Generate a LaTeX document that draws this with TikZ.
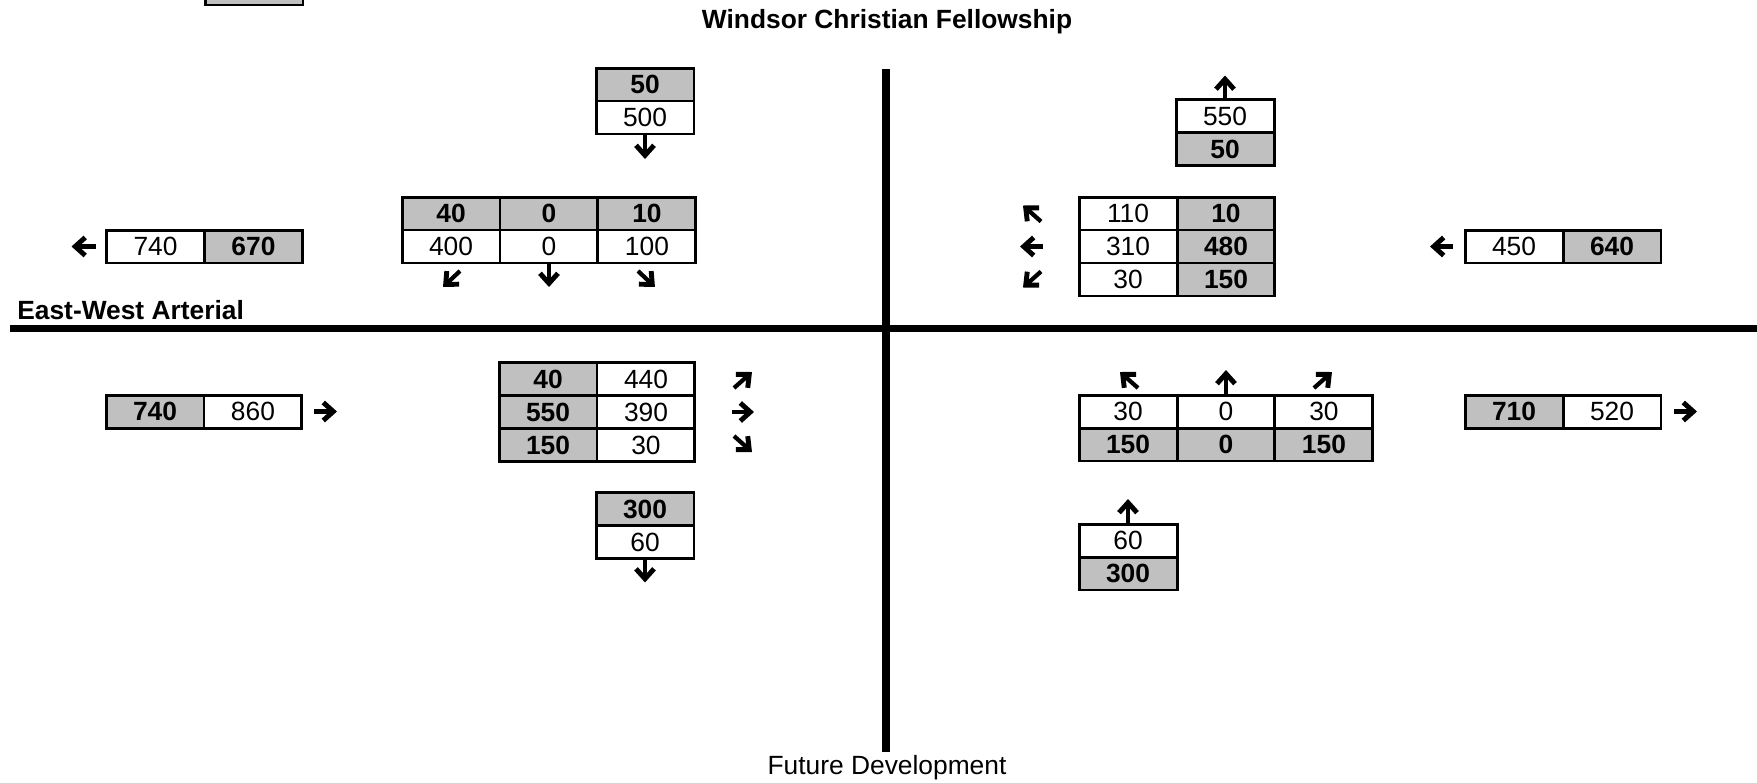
\documentclass[tikz,border=0pt]{standalone}
\usepackage{fontspec}
\setmainfont{Liberation Sans}
\usepackage{xcolor}
\usetikzlibrary{arrows.meta, positioning}
\definecolor{cellgray}{HTML}{C0C0C0}

\begin{document}
\begin{tikzpicture}[
    x=0.02cm, y=-0.02cm,
    cell/.style={rectangle, draw, line width=1.7pt, minimum width=1.96cm, minimum height=0.66cm, inner sep=0pt, outer sep=0pt, font=\fontsize{15}{18}\selectfont},
    vol/.style={cell, fill=white},
    volg/.style={cell, fill=cellgray, font=\fontsize{15}{18}\selectfont\bfseries},
    road/.style={line width=4pt},
    street/.style={inner sep=0pt, font=\fontsize{15}{18}\selectfont\bfseries},
    mvarrow/.style={line width=2.4pt, -{Straight Barb[length=2mm, width=3.6mm, line width=2.8pt]}},
]
\useasboundingbox (0,0) rectangle (1757,782);

% roads
\coordinate (ewstart) at (10,328.5);
\coordinate (ewend) at (1757,328.5);
\coordinate (nstop) at (886,69);
\coordinate (nsbot) at (886,752);
\draw[road] (ewstart) -- (ewend);
\draw[road] (nstop) -- (nsbot);

% street names
\node[street, anchor=base] (wcf) at (887,28.5) {Windsor Christian Fellowship};
\node[street, anchor=base west] (ewa) at (17,319) {East-West Arterial};
\node[inner sep=0pt, anchor=base, font=\fontsize{15}{18}\selectfont] (fut) at (887,774) {Future Development};

% cut-off box, top left
\node[volg] (keybox) at (254,-11.5) {};

% north-west quadrant
\node[volg] (nwin) at (645,84.5) {50};
\node[vol, below=0pt of nwin] (nwout) {500};
\draw[mvarrow] (nwout.south) -- ++(0,25);

\node[vol] (nwwout) at (155.5,246.5) {740};
\node[volg, right=0pt of nwwout] (nwwpk) {670};
\draw[mvarrow] ([shift={(-11,0)}]nwwout.west) -- ++(-24,0);

\node[volg] (nwta) at (451,213.5) {40};
\node[volg, right=0pt of nwta] (nwtb) {0};
\node[volg, right=0pt of nwtb] (nwtc) {10};
\node[vol, below=0pt of nwta] (nwba) {400};
\node[vol, below=0pt of nwtb] (nwbb) {0};
\node[vol, below=0pt of nwtc] (nwbc) {100};
\draw[mvarrow] ([shift={(9,8)}]nwba.south) -- ++(-17,16);
\draw[mvarrow] (nwbb.south) -- ++(0,24);
\draw[mvarrow] ([shift={(-9,8)}]nwbc.south) -- ++(17,16);

% north-east quadrant
\node[vol] (neout) at (1225,116) {550};
\node[volg, below=0pt of neout] (nein) {50};
\draw[mvarrow] (neout.north) -- ++(0,-24);

\node[vol] (nela) at (1128,213.5) {110};
\node[volg, right=0pt of nela] (nepa) {10};
\node[vol, below=0pt of nela] (nelb) {310};
\node[volg, right=0pt of nelb] (nepb) {480};
\node[vol, below=0pt of nelb] (nelc) {30};
\node[volg, right=0pt of nelc] (nepc) {150};
\draw[mvarrow] ([shift={(-38,8)}]nela.west) -- ++(-18,-16);
\draw[mvarrow] ([shift={(-36,0)}]nelb.west) -- ++(-23,0);
\draw[mvarrow] ([shift={(-38,-8)}]nelc.west) -- ++(-18,16);

\node[vol] (neeout) at (1514,246.5) {450};
\node[volg, right=0pt of neeout] (neepk) {640};
\draw[mvarrow] ([shift={(-12,0)}]neeout.west) -- ++(-23,0);

% south-west quadrant
\node[volg] (swwpk) at (155,411.5) {740};
\node[vol, right=0pt of swwpk] (swwout) {860};
\draw[mvarrow] ([shift={(12,0)}]swwout.east) -- ++(23,0);

\node[volg] (swpa) at (548,379) {40};
\node[vol, right=0pt of swpa] (swla) {440};
\node[volg, below=0pt of swpa] (swpb) {550};
\node[vol, right=0pt of swpb] (swlb) {390};
\node[volg, below=0pt of swpb] (swpc) {150};
\node[vol, right=0pt of swpc] (swlc) {30};
\draw[mvarrow] ([shift={(39,9)}]swla.east) -- ++(18,-16);
\draw[mvarrow] ([shift={(37,0)}]swlb.east) -- ++(22,0);
\draw[mvarrow] ([shift={(39,-9)}]swlc.east) -- ++(18,16);

\node[volg] (swin) at (645,509) {300};
\node[vol, below=0pt of swin] (swout) {60};
\draw[mvarrow] (swout.south) -- ++(0,24);

% south-east quadrant
\node[vol] (sela) at (1128,411.5) {30};
\node[vol, right=0pt of sela] (selb) {0};
\node[vol, right=0pt of selb] (selc) {30};
\node[volg, below=0pt of sela] (sepa) {150};
\node[volg, below=0pt of selb] (sepb) {0};
\node[volg, below=0pt of selc] (sepc) {150};
\draw[mvarrow] ([shift={(10,-7)}]sela.north) -- ++(-18,-16);
\draw[mvarrow] (selb.north) -- ++(0,-25);
\draw[mvarrow] ([shift={(-10,-7)}]selc.north) -- ++(18,-16);

\node[vol] (seout) at (1128,540.5) {60};
\node[volg, below=0pt of seout] (sein) {300};
\draw[mvarrow] (seout.north) -- ++(0,-25);

\node[volg] (seepk) at (1514,411.5) {710};
\node[vol, right=0pt of seepk] (seeout) {520};
\draw[mvarrow] ([shift={(13,0)}]seeout.east) -- ++(23,0);

\end{tikzpicture}
\end{document}
